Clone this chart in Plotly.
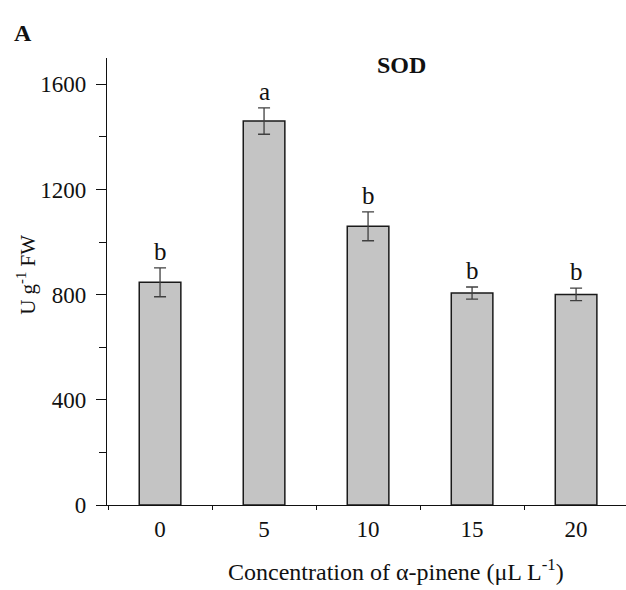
import plotly.graph_objects as go

categories = ["0", "5", "10", "15", "20"]
values = [847, 1460, 1060, 806, 801]
errors = [55, 50, 55, 23, 24]
letters = ["b", "a", "b", "b", "b"]
y_ticks = [0, 400, 800, 1200, 1600]

FONT = "Liberation Serif"
INK = "#111111"

fig = go.Figure()
fig.add_trace(go.Bar(
    x=list(range(len(categories))), y=values, width=0.4,
    marker=dict(color="#c4c4c4", line=dict(color="#1a1a1a", width=1.5)),
    error_y=dict(type="data", array=errors, visible=True, color="#404040",
                 thickness=1.3, width=6),
    showlegend=False,
))

annotations = []
for i, (v, e, l) in enumerate(zip(values, errors, letters)):
    annotations.append(dict(x=i, y=v + e, xref="x", yref="y", text=l,
                            showarrow=False, xanchor="center", yanchor="bottom", yshift=1,
                            font=dict(family=FONT, size=25, color=INK)))

annotations += [
    dict(x=-0.154, y=0.515, xref="paper", yref="paper", text="U g<sup>-1</sup> FW",
         textangle=-90, showarrow=False, xanchor="center", yanchor="middle",
         font=dict(family=FONT, size=21, color=INK)),
    dict(x=0.557, y=-0.145, xref="paper", yref="paper",
         text="Concentration of α-pinene (μL L<sup>-1</sup>)",
         showarrow=False, xanchor="center", yanchor="middle",
         font=dict(family=FONT, size=24, color=INK)),
    dict(x=0.568, y=0.984, xref="paper", yref="paper", text="<b>SOD</b>",
         showarrow=False, xanchor="center", yanchor="middle",
         font=dict(family=FONT, size=24, color=INK)),
    dict(x=-0.162, y=1.056, xref="paper", yref="paper", text="<b>A</b>",
         showarrow=False, xanchor="center", yanchor="middle",
         font=dict(family=FONT, size=24, color=INK)),
]

fig.update_layout(
    width=626, height=590,
    margin=dict(l=107, r=0, t=58, b=85),
    paper_bgcolor="white", plot_bgcolor="white",
    annotations=annotations,
    font=dict(family=FONT, size=22, color=INK),
)
fig.update_xaxes(
    range=[-0.51, 4.48],
    tickvals=list(range(len(categories))), ticktext=categories,
    ticks="", showline=True, linecolor=INK, linewidth=1.4,
    minor=dict(tickvals=[i - 0.5 for i in range(len(categories) + 1)],
               ticks="outside", ticklen=4, tickwidth=1.3, tickcolor=INK),
    showgrid=False, zeroline=False, ticklabelstandoff=3,
    tickfont=dict(family=FONT, size=23, color=INK),
)
fig.update_yaxes(
    range=[0, 1700], tickvals=y_ticks,
    showline=True, linecolor=INK, linewidth=1.4,
    ticks="outside", ticklen=10, tickwidth=1.3, tickcolor=INK,
    minor=dict(dtick=200, ticks="outside", ticklen=7, tickwidth=1.3, tickcolor=INK),
    showgrid=False, zeroline=False, ticklabelstandoff=5,
    tickfont=dict(family=FONT, size=23, color=INK),
)

fig.write_html("out.html")
